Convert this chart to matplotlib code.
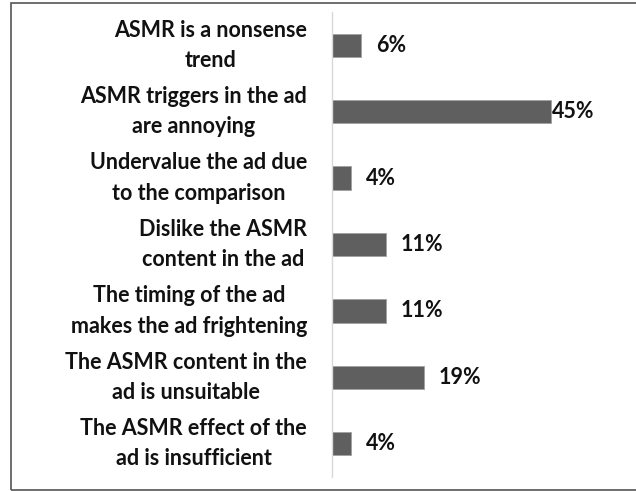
import matplotlib
matplotlib.use("Agg")
import matplotlib.pyplot as plt
from matplotlib.patches import Rectangle

categories = [
    "ASMR is a nonsense\ntrend",
    "ASMR triggers in the ad\nare annoying",
    "Undervalue the ad due\nto the comparison",
    "Dislike the ASMR\ncontent in the ad",
    "The timing of the ad\nmakes the ad frightening",
    "The ASMR content in the\nad is unsuitable",
    "The ASMR effect of the\nad is insufficient",
]
values = [6, 45, 4, 11, 11, 19, 4]
value_labels = ["6%", "45%", "4%", "11%", "11%", "19%", "4%"]

plt.rcParams['font.family'] = ['Lato', 'DejaVu Sans']

W, H = 636, 491
fig = plt.figure(figsize=(W / 100, H / 100), dpi=100)

# outer border
fig.patches.append(Rectangle((11 / W, 1 - 490 / H), 700 / W, (490 - 3) / H,
                             transform=fig.transFigure, fill=False,
                             edgecolor="#555555", linewidth=1.2))

ax_left, ax_top, ax_bot = 332, 12, 477
px_per_unit = 219 / 45
xmax = 50
ax = fig.add_axes([ax_left / W, 1 - ax_bot / H, xmax * px_per_unit / W, (ax_bot - ax_top) / H])

y = list(range(len(categories)))
ax.barh(y, values, height=0.35, color="#5f5f5f", edgecolor="#a0a0a0", linewidth=0.6)
ax.set_xlim(0, xmax)
ax.set_ylim(len(categories) - 0.5, -0.5)

fs = 15.5
ax.set_yticks(y)
ax.set_yticklabels(categories, fontsize=fs, fontweight="bold", color="#111111",
                   linespacing=1.55)
for t in ax.get_yticklabels():
    t.set_multialignment("center")
    t.set_verticalalignment("center")
ax.tick_params(axis="y", length=0, pad=18)
ax.set_xticks([])

for s in ["top", "right", "bottom"]:
    ax.spines[s].set_visible(False)
ax.spines["left"].set_color("#d9d9d9")
ax.spines["left"].set_linewidth(1.0)

vmax = max(values)
for yi, v, lab in zip(y, values, value_labels):
    off = 0.2 if v == vmax else 3.0
    ax.text(v + off, yi, lab, va="center", ha="left", fontsize=fs,
            fontweight="bold", color="#111111", clip_on=False)

fig.savefig("out.png", dpi=100)
